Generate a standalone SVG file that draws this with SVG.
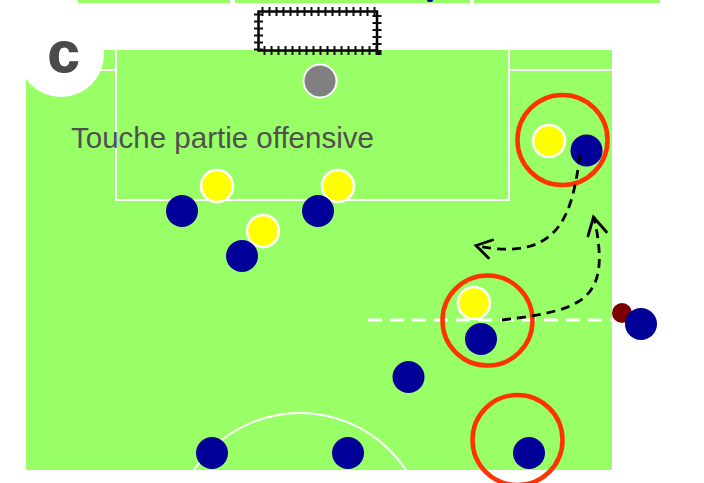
<svg xmlns="http://www.w3.org/2000/svg" width="704" height="483" viewBox="0 0 704 483">
<defs>
<style>
.field{fill:#99ff66}
.line{stroke:#fff;stroke-width:2;fill:none}
.yellow{fill:#ffff00;stroke:#fff;stroke-width:2.5}
.blue{fill:#000099}
.ring{fill:none;stroke:#ff3300;stroke-width:4.5}
.run{fill:none;stroke:#000;stroke-width:2.8;stroke-dasharray:9 6}
.head{fill:none;stroke:#000;stroke-width:2.8;stroke-linecap:round}
</style>
<clipPath id="fieldClip"><rect x="26" y="50" width="586" height="420"/></clipPath>
</defs>
<rect width="704" height="483" fill="#fff"/>
<g id="top-strip">
<rect class="field" x="78" y="0" width="152" height="3"/>
<rect class="field" x="235" y="0" width="235" height="3"/>
<rect class="field" x="474" y="0" width="186" height="3"/>
<ellipse cx="430" cy="0" rx="3" ry="2" fill="#000099"/>
</g>
<g id="pitch">
<rect class="field" x="26" y="50" width="586" height="420"/>
<rect class="line" x="116" y="49" width="393" height="151"/>
<line class="line" x1="26" y1="70" x2="116" y2="70"/>
<line class="line" x1="509" y1="70" x2="612" y2="70"/>
<circle class="line" cx="300" cy="540" r="127" clip-path="url(#fieldClip)"/>
<line x1="368" y1="320" x2="612" y2="320" stroke="#fff" stroke-width="3" stroke-dasharray="14 8"/>
</g>
<g id="goal">
<rect x="258.5" y="11.5" width="118.5" height="39" fill="#fff" stroke="#000" stroke-width="2.5"/>
<rect x="258.5" y="11.5" width="118.5" height="39" fill="none" stroke="#111" stroke-width="9" stroke-dasharray="2 5" stroke-dashoffset="-3"/>
</g>
<g id="badge">
<circle cx="61" cy="54" r="43" fill="#fff"/>
<text x="63.5" y="72" text-anchor="middle" font-family="Liberation Sans, Arial, sans-serif" font-weight="bold" font-size="57" fill="#4a4a4a" stroke="#4a4a4a" stroke-width="1.2">c</text>
</g>
<text id="title" x="71" y="148" font-family="Liberation Sans, Arial, sans-serif" font-size="29.5" fill="#505050">Touche partie offensive</text>
<g id="ball"><circle cx="320" cy="81" r="16.5" fill="#808080" stroke="#fff" stroke-width="2"/></g>
<g id="players">
<circle id="y1" class="yellow" cx="217" cy="186" r="16"/>
<circle id="y2" class="yellow" cx="338" cy="186" r="16"/>
<circle id="y3" class="yellow" cx="263" cy="231" r="16"/>
<circle id="y4" class="yellow" cx="549" cy="141" r="16"/>
<circle id="y5" class="yellow" cx="474" cy="303" r="16"/>
<circle id="b1" class="blue" cx="182" cy="211" r="16"/>
<circle id="b2" class="blue" cx="318" cy="211" r="16"/>
<circle id="b3" class="blue" cx="242" cy="256" r="16"/>
<circle id="b4" class="blue" cx="586.5" cy="150.5" r="16"/>
<circle id="b5" class="blue" cx="481" cy="339" r="16"/>
<circle id="b6" class="blue" cx="408.5" cy="377" r="16"/>
<circle id="b7" class="blue" cx="212" cy="453" r="16"/>
<circle id="b8" class="blue" cx="348" cy="453" r="16"/>
<circle id="b9" class="blue" cx="529" cy="453" r="16"/>
<circle id="thrower" cx="622" cy="313" r="10" fill="#7a0000"/>
<circle id="b10" class="blue" cx="641" cy="324" r="16"/>
</g>
<g id="rings">
<circle class="ring" cx="562.5" cy="140" r="45"/>
<circle class="ring" cx="487.5" cy="320.5" r="45"/>
<circle class="ring" cx="517.5" cy="440" r="45"/>
</g>
<g id="connectors">
<path class="run" d="M580,155 C572,215 560,262 477,246"/>
<polyline class="head" points="492.5,240 476,245.5 488.5,258"/>
<path class="run" d="M502,320 C585,310 612,300 594,217"/>
<polyline class="head" points="588,236 593.5,217 606.5,232"/>
</g>
</svg>
